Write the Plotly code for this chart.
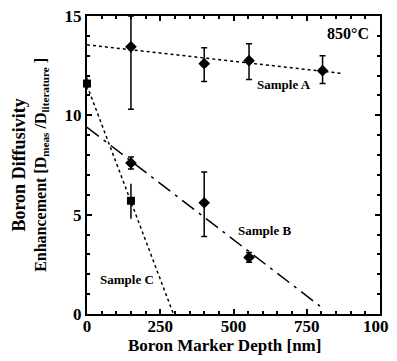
import plotly.graph_objects as go

# Sample A (diamonds)
a_x = [150, 400, 553, 804]
a_y = [13.45, 12.6, 12.75, 12.25]
a_err_plus = [1.55, 0.8, 0.85, 0.75]
a_err_minus = [3.15, 0.9, 0.95, 0.65]
a_fit_x = [0, 875]
a_fit_y = [13.55, 12.1]

# Sample B (diamonds)
b_x = [150, 400, 553]
b_y = [7.6, 5.6, 2.85]
b_err_plus = [0.3, 1.55, 0.25]
b_err_minus = [0.3, 1.7, 0.25]
b_fit_x = [0, 795]
b_fit_y = [9.4, 0.4]

# Sample C (squares)
c_x = [0, 150]
c_y = [11.6, 5.7]
c_err_plus = [0.3, 0.85]
c_err_minus = [0.3, 0.9]
c_fit_x = [0, 295]
c_fit_y = [11.5, 0.0]

FONT = "Liberation Serif"

fig = go.Figure()
fig.add_trace(go.Scatter(x=a_fit_x, y=a_fit_y, mode="lines",
                         line=dict(color="black", width=1.5, dash="dot"), showlegend=False))
fig.add_trace(go.Scatter(x=b_fit_x, y=b_fit_y, mode="lines",
                         line=dict(color="black", width=1.5, dash="longdashdot"), showlegend=False))
fig.add_trace(go.Scatter(x=c_fit_x, y=c_fit_y, mode="lines",
                         line=dict(color="black", width=1.5, dash="dot"), showlegend=False))

fig.add_trace(go.Scatter(x=a_x, y=a_y, mode="markers",
                         marker=dict(symbol="diamond", size=9, color="black"),
                         error_y=dict(type="data", array=a_err_plus, arrayminus=a_err_minus,
                                      color="black", thickness=1.5, width=3),
                         showlegend=False))
fig.add_trace(go.Scatter(x=b_x, y=b_y, mode="markers",
                         marker=dict(symbol="diamond", size=9, color="black"),
                         error_y=dict(type="data", array=b_err_plus, arrayminus=b_err_minus,
                                      color="black", thickness=1.5, width=3),
                         showlegend=False))
fig.add_trace(go.Scatter(x=c_x, y=c_y, mode="markers",
                         marker=dict(symbol="square", size=8, color="black"),
                         error_y=dict(type="data", array=c_err_plus, arrayminus=c_err_minus,
                                      color="black", thickness=1.5, width=0),
                         showlegend=False, cliponaxis=False))

annots = [
    dict(x=968, y=14.1, text="850°C", xanchor="right", size=16),
    dict(x=672, y=11.55, text="Sample A", xanchor="center", size=13),
    dict(x=605, y=4.2, text="Sample B", xanchor="center", size=13),
    dict(x=135, y=1.75, text="Sample C", xanchor="center", size=13),
]
for an in annots:
    fig.add_annotation(x=an["x"], y=an["y"], text="<b>" + an["text"] + "</b>",
                       showarrow=False, xanchor=an["xanchor"],
                       font=dict(family=FONT, size=an["size"], color="black"))

# axis titles as annotations for precise placement
fig.add_annotation(xref="paper", yref="paper", x=0.47, y=-0.107,
                   text="<b>Boron Marker Depth [nm]</b>", showarrow=False,
                   xanchor="center", yanchor="middle",
                   font=dict(family=FONT, size=17, color="black"))
fig.add_annotation(xref="paper", yref="paper", x=-0.195, y=0.5,
                   text="<b><span style='font-size:18px'>Boron Diffusivity</span><br>Enhancement [D<sub>meas</sub> /D<sub>literature</sub> ]</b>",
                   showarrow=False, textangle=-90, xanchor="center", yanchor="middle",
                   font=dict(family=FONT, size=16, color="black"))

axis_common = dict(showgrid=False, zeroline=False, showline=True, linecolor="black",
                   linewidth=2, mirror="ticks", ticks="inside", ticklen=5,
                   tickcolor="black", tickwidth=1.5, automargin=False,
                   ticklabeloverflow="allow",
                   tickfont=dict(family=FONT, size=17, color="black"))

fig.update_xaxes(range=[0, 1000], tickvals=[0, 250, 500, 750, 1000],
                 ticktext=["<b>0</b>", "<b>250</b>", "<b>500</b>", "<b>750</b>", "<b>1000</b>"],
                 minor=dict(dtick=50, ticks="inside", ticklen=3, tickcolor="black"),
                 ticklabelstandoff=-4,
                 **axis_common)
fig.update_yaxes(range=[0, 15], tickvals=[0, 5, 10, 15],
                 ticktext=["<b>0</b>", "<b>5</b>", "<b>10</b>", "<b>15</b>"],
                 minor=dict(dtick=1, ticks="inside", ticklen=3, tickcolor="black"),
                 **axis_common)

fig.update_layout(width=389, height=353, plot_bgcolor="white", paper_bgcolor="white",
                  margin=dict(l=79, r=17, t=8, b=47), showlegend=False)

fig.write_html("out.html")
